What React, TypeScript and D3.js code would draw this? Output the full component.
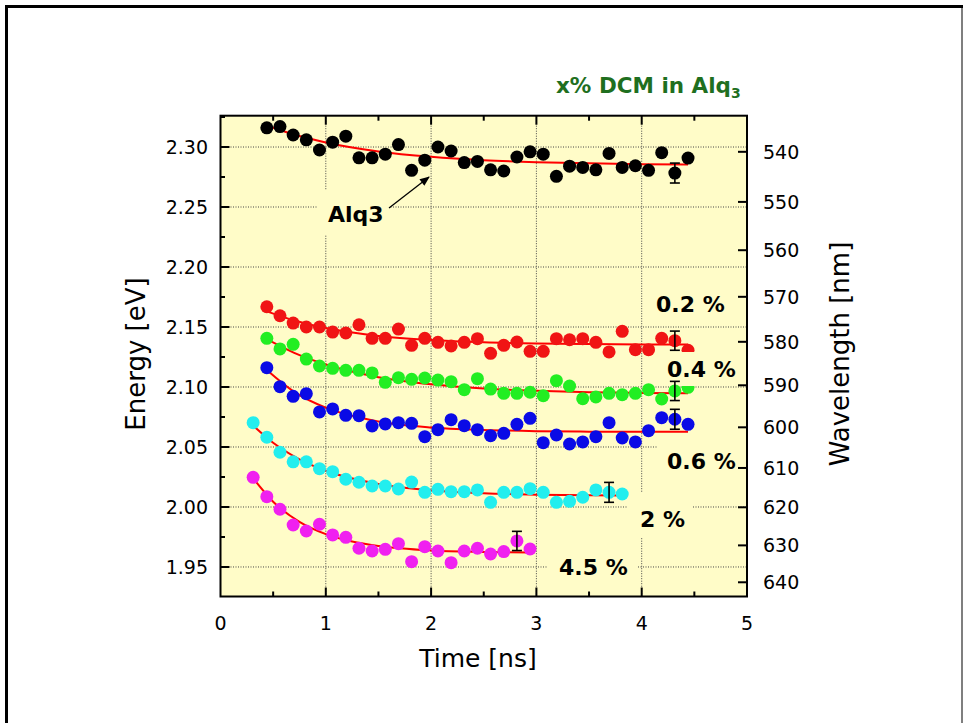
import React, { useEffect, useRef } from "react";
import * as d3 from "d3";

// time axis (ns) for the different series
const times33 = [0.44, 0.565, 0.69, 0.815, 0.94, 1.065, 1.19, 1.315, 1.44, 1.565, 1.69, 1.815, 1.94, 2.065, 2.19, 2.315, 2.44, 2.565, 2.69, 2.815, 2.94, 3.065, 3.19, 3.315, 3.44, 3.565, 3.69, 3.815, 3.94, 4.065, 4.19, 4.315, 4.44];
const times29 = [0.31, 0.44, 0.565, 0.69, 0.815, 0.94, 1.065, 1.19, 1.315, 1.44, 1.565, 1.69, 1.815, 1.94, 2.065, 2.19, 2.315, 2.44, 2.565, 2.69, 2.815, 2.94, 3.065, 3.19, 3.315, 3.44, 3.565, 3.69, 3.815];
const times22 = [0.31, 0.44, 0.565, 0.69, 0.815, 0.94, 1.065, 1.19, 1.315, 1.44, 1.565, 1.69, 1.815, 1.94, 2.065, 2.19, 2.315, 2.44, 2.565, 2.69, 2.815, 2.94];

// energies (eV)
const alq3 = [2.316, 2.317, 2.310, 2.306, 2.2975, 2.304, 2.309, 2.291, 2.291, 2.294, 2.302, 2.2806, 2.289, 2.300, 2.2967, 2.287, 2.288, 2.281, 2.280, 2.2917, 2.296, 2.294, 2.2756, 2.284, 2.283, 2.281, 2.2947, 2.283, 2.2844, 2.2806, 2.2953, 2.2783, 2.2908];
const dcm02 = [2.1669, 2.1594, 2.1533, 2.150, 2.150, 2.1458, 2.145, 2.1519, 2.1406, 2.1406, 2.1483, 2.1347, 2.1406, 2.1372, 2.1342, 2.1372, 2.1403, 2.1281, 2.1347, 2.1375, 2.1297, 2.1297, 2.1403, 2.1394, 2.1403, 2.1372, 2.1292, 2.1464, 2.1311, 2.1311, 2.1406, 2.1386, 2.1306];
const dcm04 = [2.1406, 2.1317, 2.1356, 2.1233, 2.1175, 2.1156, 2.1139, 2.1139, 2.1117, 2.1039, 2.1078, 2.1064, 2.1075, 2.1058, 2.1044, 2.0978, 2.1069, 2.0983, 2.0947, 2.0947, 2.0956, 2.0928, 2.1053, 2.1008, 2.0903, 2.0917, 2.0947, 2.0936, 2.0947, 2.0978, 2.0900, 2.0967, 2.0997];
const dcm06 = [2.1161, 2.1003, 2.0922, 2.0944, 2.0792, 2.0817, 2.0764, 2.0761, 2.0675, 2.0692, 2.0703, 2.0697, 2.0586, 2.0644, 2.0728, 2.0678, 2.0644, 2.0594, 2.0614, 2.0689, 2.0739, 2.0536, 2.0600, 2.0525, 2.0542, 2.0586, 2.0703, 2.0575, 2.0542, 2.0636, 2.0744, 2.0731, 2.0689];
const dcm2 = [2.0703, 2.0581, 2.0456, 2.0376, 2.0376, 2.0319, 2.0294, 2.0231, 2.0206, 2.0175, 2.0175, 2.0150, 2.0208, 2.0122, 2.0147, 2.0128, 2.0128, 2.0142, 2.0039, 2.0122, 2.0122, 2.0153, 2.0122, 2.0039, 2.0047, 2.0081, 2.0142, 2.0122, 2.0108];
const dcm45 = [2.0247, 2.0086, 1.9981, 1.9850, 1.9800, 1.9856, 1.9767, 1.9747, 1.9656, 1.9633, 1.9647, 1.9694, 1.9544, 1.9669, 1.9633, 1.9536, 1.9633, 1.9656, 1.9608, 1.9628, 1.9717, 1.9650];

// fitted curves
const fitT33 = [0.44, 0.7, 1.0, 1.5, 2.0, 2.5, 3.0, 3.5, 4.0, 4.44];
const fitAlq3 = [2.318, 2.3104, 2.3038, 2.2963, 2.2918, 2.289, 2.2874, 2.2864, 2.2857, 2.2854];
const fit02 = [2.163, 2.1554, 2.1491, 2.1426, 2.1392, 2.1373, 2.1363, 2.1358, 2.1355, 2.1354];
const fit04 = [2.1398, 2.1284, 2.1187, 2.1082, 2.1023, 2.0988, 2.0969, 2.0957, 2.0951, 2.0947];
const fit06 = [2.1142, 2.096, 2.0828, 2.0713, 2.0663, 2.0642, 2.0632, 2.0628, 2.0626, 2.0626];
const fitT2 = [0.31, 0.5, 0.75, 1.0, 1.5, 2.0, 2.5, 3.0, 3.5, 3.82];
const fit2 = [2.0678, 2.0535, 2.0397, 2.0302, 2.0192, 2.0139, 2.0114, 2.0103, 2.0097, 2.0095];
const fitT45 = [0.31, 0.5, 0.75, 1.0, 1.25, 1.5, 2.0, 2.5, 2.94];
const fit45 = [2.0239, 2.0044, 1.9876, 1.9774, 1.9712, 1.9675, 1.9638, 1.9625, 1.962];

// one error bar per series: [time, half width]
const errAlq3 = [4.315, 0.0083];
const err02 = [4.315, 0.008];
const err04 = [4.315, 0.008];
const err06 = [4.315, 0.0083];
const err2 = [3.69, 0.0083];
const err45 = [2.815, 0.008];

const energyTicks = [1.95, 2.0, 2.05, 2.1, 2.15, 2.2, 2.25, 2.3];
const timeTicks = [0, 1, 2, 3, 4, 5];
const wavelengthTicks = [540, 550, 560, 570, 580, 590, 600, 610, 620, 630, 640];

const series = [
  { t: times33, e: alq3, ft: fitT33, fe: fitAlq3, err: errAlq3, color: "#000000" },
  { t: times33, e: dcm02, ft: fitT33, fe: fit02, err: err02, color: "#f01414" },
  { t: times33, e: dcm04, ft: fitT33, fe: fit04, err: err04, color: "#22ee22" },
  { t: times33, e: dcm06, ft: fitT33, fe: fit06, err: err06, color: "#0a0ae6" },
  { t: times29, e: dcm2, ft: fitT2, fe: fit2, err: err2, color: "#22eeee" },
  { t: times22, e: dcm45, ft: fitT45, fe: fit45, err: err45, color: "#f020f0" },
];

const FONT = "'DejaVu Sans', Verdana, sans-serif";
const PLOT_BG = "#fffcc8";

export default function App() {
  const svgRef = useRef<SVGSVGElement>(null);

  useEffect(() => {
    const svg = d3.select(svgRef.current);
    svg.selectAll("*").remove();

    const left = 220.5, right = 747, top = 115.7, bottom = 596.5;
    const x = d3.scaleLinear().domain([0, 5]).range([left, right]);
    const y = d3.scaleLinear().domain([1.9254, 2.3261]).range([bottom, top]);

    svg.append("rect").attr("width", 963).attr("height", 723).attr("fill", "#fff");

    // page frame
    svg.append("line").attr("x1", 5).attr("x2", 963).attr("y1", 6.5).attr("y2", 6.5)
      .attr("stroke", "#000").attr("stroke-width", 3);
    svg.append("line").attr("x1", 6.5).attr("x2", 6.5).attr("y1", 5).attr("y2", 723)
      .attr("stroke", "#000").attr("stroke-width", 3);
    svg.append("line").attr("x1", 962).attr("x2", 962).attr("y1", 8).attr("y2", 723)
      .attr("stroke", "#555").attr("stroke-width", 1.5);

    svg.append("rect").attr("x", left).attr("y", top)
      .attr("width", right - left).attr("height", bottom - top).attr("fill", PLOT_BG);

    // dotted grid
    const grid = svg.append("g").attr("stroke", "#444").attr("stroke-width", 1)
      .attr("stroke-dasharray", "1,1.5");
    [1, 2, 3, 4].forEach(t => {
      grid.append("line").attr("x1", x(t)).attr("x2", x(t)).attr("y1", top).attr("y2", bottom);
    });
    energyTicks.forEach(e => {
      grid.append("line").attr("x1", left).attr("x2", right).attr("y1", y(e)).attr("y2", y(e));
    });

    // text box backgrounds hide the grid
    const boxes = [[317, 190, 72, 45], [645, 285, 100, 32], [657, 437, 89, 46], [628, 493, 65, 45], [548, 547, 90, 40]];
    boxes.forEach(([bx, by, bw, bh]) => {
      svg.append("rect").attr("x", bx).attr("y", by).attr("width", bw).attr("height", bh).attr("fill", PLOT_BG);
    });

    const line = d3.line<[number, number]>().x(d => x(d[0])).y(d => y(d[1])).curve(d3.curveMonotoneX);

    series.forEach(s => {
      svg.append("path")
        .attr("d", line(s.ft.map((t, i) => [t, s.fe[i]] as [number, number])))
        .attr("fill", "none").attr("stroke", "#ff0000").attr("stroke-width", 2);
    });

    series.forEach(s => {
      svg.append("g").selectAll("circle").data(s.t).join("circle")
        .attr("cx", d => x(d)).attr("cy", (d, i) => y(s.e[i]))
        .attr("r", 6.5).attr("fill", s.color);
    });

    // 0.4 % box sits over the last green point
    svg.append("rect").attr("x", 681).attr("y", 352).attr("width", 65).attr("height", 34).attr("fill", PLOT_BG);

    series.forEach(s => {
      const [et, eh] = s.err;
      const idx = s.t.indexOf(et);
      const ev = s.e[idx];
      const g = svg.append("g").attr("stroke", "#000").attr("stroke-width", 1.6);
      g.append("line").attr("x1", x(et)).attr("x2", x(et)).attr("y1", y(ev + eh)).attr("y2", y(ev - eh));
      g.append("line").attr("x1", x(et) - 5).attr("x2", x(et) + 5).attr("y1", y(ev + eh)).attr("y2", y(ev + eh));
      g.append("line").attr("x1", x(et) - 5).attr("x2", x(et) + 5).attr("y1", y(ev - eh)).attr("y2", y(ev - eh));
    });

    // axes frame and ticks
    const ax = svg.append("g").attr("stroke", "#000").attr("stroke-width", 2);
    ax.append("rect").attr("x", left).attr("y", top).attr("width", right - left).attr("height", bottom - top)
      .attr("fill", "none");
    d3.range(0.5, 5, 0.5).forEach(t => {
      const len = Number.isInteger(t) ? 9 : 5;
      ax.append("line").attr("x1", x(t)).attr("x2", x(t)).attr("y1", top).attr("y2", top + len);
      ax.append("line").attr("x1", x(t)).attr("x2", x(t)).attr("y1", bottom).attr("y2", bottom - len);
    });
    d3.range(1.95, 2.326, 0.025).forEach((e, i) => {
      const len = i % 2 === 0 ? 9 : 4.5;
      ax.append("line").attr("x1", left).attr("x2", left + len).attr("y1", y(e)).attr("y2", y(e));
    });
    wavelengthTicks.forEach(w => {
      const yy = y(1239.84 / w);
      ax.append("line").attr("x1", right).attr("x2", right - 9).attr("y1", yy).attr("y2", yy);
    });

    const txt = svg.append("g").attr("font-family", FONT).attr("fill", "#000");
    timeTicks.forEach(t => {
      txt.append("text").attr("x", x(t)).attr("y", 630).attr("text-anchor", "middle")
        .attr("font-size", 19).text(t);
    });
    energyTicks.forEach(e => {
      txt.append("text").attr("x", 208).attr("y", y(e) + 7).attr("text-anchor", "end")
        .attr("font-size", 19).text(e.toFixed(2));
    });
    wavelengthTicks.forEach(w => {
      txt.append("text").attr("x", 763).attr("y", y(1239.84 / w) + 7)
        .attr("font-size", 19).text(w);
    });

    txt.append("text").attr("x", 478).attr("y", 667).attr("text-anchor", "middle")
      .attr("font-size", 25).text("Time [ns]");
    txt.append("text").attr("transform", "translate(145,354) rotate(-90)").attr("text-anchor", "middle")
      .attr("font-size", 26).text("Energy [eV]");
    txt.append("text").attr("transform", "translate(849,354) rotate(-90)").attr("text-anchor", "middle")
      .attr("font-size", 26).text("Wavelength [nm]");

    // curve labels
    const labels: [string, number, number][] = [
      ["Alq3", 328, 222], ["0.2 %", 656, 312], ["0.4 %", 667, 377],
      ["0.6 %", 667, 469], ["2 %", 640, 527], ["4.5 %", 559, 575],
    ];
    labels.forEach(([s, lx, ly]) => {
      txt.append("text").attr("x", lx).attr("y", ly).attr("font-size", 22)
        .attr("font-weight", "bold").text(s);
    });

    const defs = svg.append("defs");
    defs.append("marker").attr("id", "arrow").attr("viewBox", "0 0 10 10")
      .attr("refX", 9).attr("refY", 5).attr("markerWidth", 11).attr("markerHeight", 10)
      .attr("markerUnits", "userSpaceOnUse").attr("orient", "auto")
      .append("path").attr("d", "M0,1 L10,5 L0,9 z").attr("fill", "#000");
    svg.append("line").attr("x1", 389).attr("y1", 208).attr("x2", 429).attr("y2", 177)
      .attr("stroke", "#000").attr("stroke-width", 1.3).attr("marker-end", "url(#arrow)");

    const title = svg.append("text").attr("x", 556).attr("y", 93).attr("font-family", FONT)
      .attr("font-size", 21.5).attr("font-weight", "bold").attr("fill", "#1f6f1f");
    title.append("tspan").text("x% DCM in Alq");
    title.append("tspan").attr("dy", 5).attr("font-size", 14).text("3");
  }, []);

  return (
    <svg
      ref={svgRef}
      width={963}
      height={723}
      style={{ position: "absolute", left: 0, top: 0 }}
    />
  );
}
